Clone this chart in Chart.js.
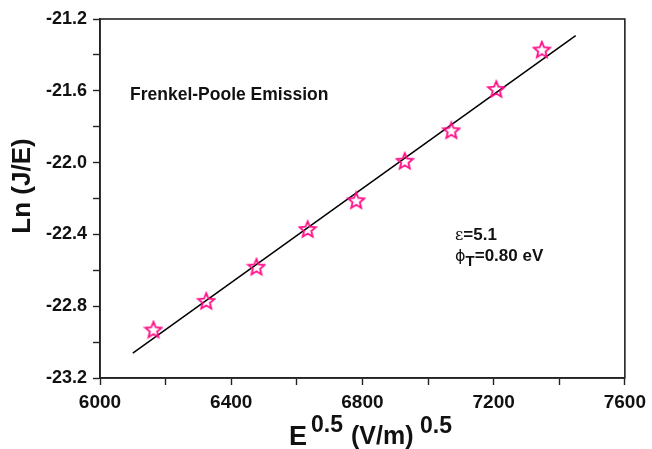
<!DOCTYPE html>
<html>
<head>
<meta charset="utf-8">
<script src="https://cdn.jsdelivr.net/npm/chart.js@4/dist/chart.umd.min.js"></script>
<style>
  body { margin: 0; background: #fff; }
  #cnt { width: 652px; height: 449px; }
</style>
</head>
<body>
<div id="cnt"><canvas id="grafica" width="652" height="449"></canvas></div>
<script>
// datos
const eField = [6163, 6324, 6477, 6633, 6781, 6929, 7071, 7208, 7347];
const lnJE = [-22.93, -22.77, -22.58, -22.37, -22.21, -21.99, -21.82, -21.59, -21.37];
const fitX = [6100, 7450];
const fitY = [-23.062, -21.293];
const xTicks = [6000, 6400, 6800, 7200, 7600];
const yTicks = [-23.2, -22.8, -22.4, -22.0, -21.6, -21.2];

const FONT = '"Liberation Sans", Arial, sans-serif';
const pink = '#ff0a84';

// estrella hueca para los puntos
function crearEstrella(){
  const c = document.createElement('canvas');
  c.width = 20; c.height = 20;
  const g = c.getContext('2d');
  g.strokeStyle = pink;
  g.lineWidth = 1.8;
  g.beginPath();
  for (let i = 0; i < 10; i++){
    const r = (i % 2 === 0) ? 8.5 : 3.8;
    const a = -Math.PI / 2 + i * Math.PI / 5;
    const px = 10 + r * Math.cos(a), py = 10.8 + r * Math.sin(a);
    if (i === 0) g.moveTo(px, py); else g.lineTo(px, py);
  }
  g.closePath();
  g.stroke();
  return c;
}

const ptsData = eField.map((v, i) => ({x: v, y: lnJE[i]}));
const fitData = fitX.map((v, i) => ({x: v, y: fitY[i]}));

const textos = {
  id: 'textos',
  afterDraw(chart){
    const ctx = chart.ctx;
    const a = chart.chartArea;
    ctx.save();
    // marco
    ctx.strokeStyle = '#222';
    ctx.lineWidth = 1.6;
    ctx.strokeRect(a.left, a.top, a.right - a.left, a.bottom - a.top);

    ctx.fillStyle = '#111';
    ctx.textBaseline = 'alphabetic';
    ctx.textAlign = 'left';
    ctx.font = 'bold 17.5px ' + FONT;
    ctx.fillText('Frenkel-Poole Emission', 130, 100);

    ctx.font = '16px "DejaVu Serif", serif';
    ctx.fillText('\u03b5', 455, 240);
    let w = ctx.measureText('\u03b5').width;
    ctx.font = 'bold 17px ' + FONT;
    ctx.fillText('=5.1', 455 + w, 240);

    ctx.font = '16px "DejaVu Sans", sans-serif';
    ctx.fillText('\u03d5', 455, 261);
    w = ctx.measureText('\u03d5').width;
    ctx.font = 'bold 15px ' + FONT;
    ctx.fillText('T', 455 + w, 266);
    const w2 = ctx.measureText('T').width;
    ctx.font = 'bold 17px ' + FONT;
    ctx.fillText('=0.80 eV', 455 + w + w2, 261);

    // titulo eje x
    ctx.font = 'bold 27px ' + FONT;
    ctx.fillText('E', 289, 445);
    ctx.font = 'bold 23px ' + FONT;
    ctx.fillText('0.5', 311, 432);
    ctx.font = 'bold 25px ' + FONT;
    ctx.fillText('(V/m)', 351, 444);
    ctx.font = 'bold 23px ' + FONT;
    ctx.fillText('0.5', 420, 433);

    // titulo eje y
    ctx.translate(30, 186);
    ctx.rotate(-Math.PI / 2);
    ctx.textAlign = 'center';
    ctx.font = 'bold 26px ' + FONT;
    ctx.fillText('Ln (J/E)', 0, 0);
    ctx.restore();
  }
};

const ctx = document.getElementById('grafica').getContext('2d');
window.grafica_ = new Chart(ctx, {
  type: 'scatter',
  data: {
    datasets: [{
      label: 'ajuste',
      type: 'line',
      data: fitData,
      borderColor: '#000',
      borderWidth: 1.5,
      pointRadius: 0,
      fill: false,
      order: 2
    }, {
      label: 'datos',
      data: ptsData,
      pointStyle: crearEstrella(),
      order: 1
    }]
  },
  options: {
    responsive: false,
    animation: false,
    layout: { padding: { left: 0, top: 19, right: 23, bottom: 0 } },
    plugins: { legend: { display: false }, tooltip: { enabled: false } },
    scales: {
      x: {
        type: 'linear',
        min: xTicks[0],
        max: xTicks[xTicks.length - 1],
        afterFit: function(s){ s.height = 71; },
        border: { display: true, color: '#222', width: 1.6 },
        grid: { drawOnChartArea: false, tickLength: 7, tickColor: '#222', tickWidth: 1.4 },
        ticks: {
          stepSize: 200,
          autoSkip: false,
          maxRotation: 0,
          padding: 6,
          color: '#111',
          font: { family: FONT, size: 19, weight: 'bold' },
          callback: function(v){ return xTicks.includes(v) ? String(v) : ''; }
        }
      },
      y: {
        type: 'linear',
        min: yTicks[0],
        max: yTicks[yTicks.length - 1],
        afterFit: function(s){ s.width = 100; },
        border: { display: true, color: '#222', width: 1.6 },
        grid: { drawOnChartArea: false, tickLength: 7, tickColor: '#222', tickWidth: 1.4 },
        ticks: {
          stepSize: 0.2,
          autoSkip: false,
          padding: 6,
          color: '#111',
          font: { family: FONT, size: 18, weight: 'bold' },
          callback: function(v){
            const r = Math.round(v * 10);
            return (Math.abs(r) % 4 === 0) ? (r / 10).toFixed(1) : '';
          }
        }
      }
    }
  },
  plugins: [textos]
});
</script>
</body>
</html>
